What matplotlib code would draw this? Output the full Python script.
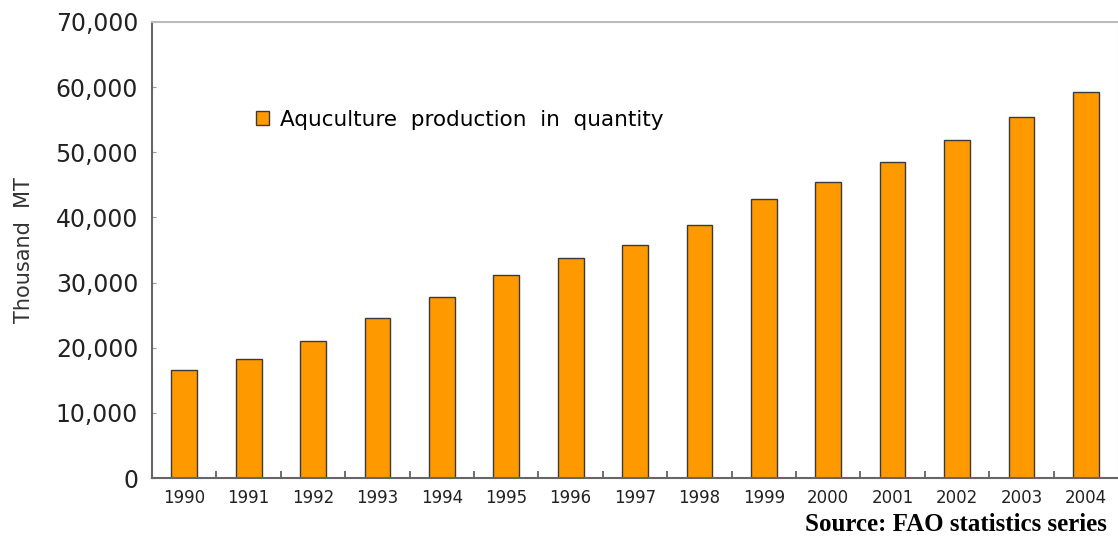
import matplotlib
matplotlib.use("Agg")
import matplotlib.pyplot as plt
from matplotlib.ticker import FuncFormatter

years = ["1990", "1991", "1992", "1993", "1994", "1995", "1996", "1997",
         "1998", "1999", "2000", "2001", "2002", "2003", "2004"]
production = [16600, 18300, 21100, 24500, 27850, 31100, 33850, 35850,
              38900, 42900, 45500, 48500, 51850, 55400, 59200]
y_ticks = [0, 10000, 20000, 30000, 40000, 50000, 60000, 70000]

plt.rcParams['font.family'] = ['DejaVu Sans']

fig = plt.figure(figsize=(11.18, 5.36), dpi=100)
ax = fig.add_axes([0.136, 0.108, 0.864, 0.851])

x = range(len(years))
ax.bar(x, production, width=0.4, color="#FF9900", edgecolor="#3a3a3a",
       linewidth=1.0, label="Aquculture  production  in  quantity", zorder=2)

ax.set_xlim(-0.5, len(years) - 0.5)
ax.set_ylim(0, 70000)
ax.set_yticks(y_ticks)
ax.yaxis.set_major_formatter(FuncFormatter(lambda v, p: f"{int(v):,}"))
ax.tick_params(axis="y", labelsize=17, length=3, direction="in",
               color="#999999", labelcolor="#222222", pad=10)

# category labels under bars, small tick marks on the boundaries
ax.set_xticks(list(x))
ax.set_xticklabels(years)
ax.tick_params(axis="x", which="major", length=0, labelsize=12,
               labelcolor="#222222", pad=8)
ax.set_xticks([i + 0.5 for i in range(len(years) - 1)], minor=True)
ax.tick_params(axis="x", which="minor", length=5, direction="in",
               color="#555555", width=1.2)

ax.set_ylabel("Thousand  MT", fontsize=15, color="#333333")
ax.yaxis.set_label_coords(-0.122, 0.5)

ax.spines["left"].set_color("#666666")
ax.spines["left"].set_linewidth(1.5)
ax.spines["bottom"].set_color("#666666")
ax.spines["bottom"].set_linewidth(1.5)
ax.spines["top"].set_color("#bbbbbb")
ax.spines["top"].set_linewidth(1.5)
ax.spines["right"].set_color("#dddddd")

ax.legend(loc="upper left", bbox_to_anchor=(0.088, 0.85), frameon=False,
          fontsize=15.5, handlelength=0.6, handleheight=0.6, handletextpad=0.5)

fig.text(0.72, 0.01, "Source: FAO statistics series", fontsize=18,
         fontweight="bold", family="Liberation Serif", color="black")

fig.savefig("out.png", dpi=100)
